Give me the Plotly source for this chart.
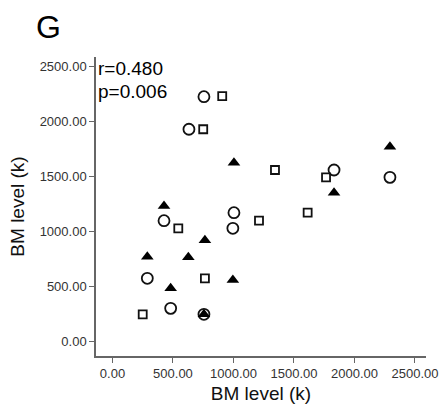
import plotly.graph_objects as go

# Data (BM level, k)
circle_x = [756, 632, 1831, 2293, 1004, 995, 426, 288, 481, 756]
circle_y = [2227, 1931, 1561, 1494, 1173, 1031, 1100, 576, 303, 249]
square_x = [907, 750, 1343, 1765, 1211, 1613, 764, 544, 250]
square_y = [2233, 1931, 1561, 1494, 1100, 1173, 576, 1031, 249]
tri_x = [1004, 2293, 1831, 764, 995, 426, 627, 288, 481, 756]
tri_y = [1627, 1773, 1355, 922, 561, 1234, 767, 773, 485, 249]
tick_vals = [0, 500, 1000, 1500, 2000, 2500]
tick_text = ["0.00", "500.00", "1000.00", "1500.00", "2000.00", "2500.00"]

FONT = "Liberation Sans, Arial, sans-serif"

fig = go.Figure()
fig.add_trace(go.Scatter(x=square_x, y=square_y, mode="markers",
                         marker=dict(symbol="square-open", size=8, color="#111",
                                     line=dict(width=1.8, color="#111"))))
fig.add_trace(go.Scatter(x=circle_x, y=circle_y, mode="markers",
                         marker=dict(symbol="circle-open", size=11, color="#111",
                                     line=dict(width=1.8, color="#111"))))
fig.add_trace(go.Scatter(x=tri_x, y=tri_y, mode="markers",
                         marker=dict(symbol="triangle-up", size=11, color="#000",
                                     line=dict(width=0))))

axis_common = dict(
    showline=True, linecolor="#666", linewidth=1.5, mirror=False,
    showgrid=False, zeroline=False, automargin=False,
    ticks="outside", ticklen=5, tickwidth=1, tickcolor="#666",
    tickvals=tick_vals, ticktext=tick_text,
    tickfont=dict(family=FONT, size=13, color="#333"),
)

fig.update_layout(
    width=443, height=412,
    margin=dict(l=96, r=17, t=57, b=56),
    paper_bgcolor="white", plot_bgcolor="white",
    showlegend=False,
    xaxis=dict(range=[-136, 2591], **axis_common,
               title=dict(text="BM level (k)", standoff=6,
                          font=dict(family=FONT, size=19, color="#111"))),
    yaxis=dict(range=[-130, 2588], **axis_common,
               title=dict(text="BM level (k)", standoff=10,
                          font=dict(family=FONT, size=19, color="#111"))),
    annotations=[
        dict(text="G", xref="paper", yref="paper", x=-0.179, y=1.10,
             xanchor="left", yanchor="middle", xshift=-3, yshift=0,
             showarrow=False,
             font=dict(family=FONT, size=32, color="#000")),
        dict(text="r=0.480", xref="paper", yref="paper", x=0.0, y=0.96,
             xanchor="left", yanchor="middle", xshift=0, yshift=0,
             showarrow=False,
             font=dict(family=FONT, size=19, color="#000")),
        dict(text="p=0.006", xref="paper", yref="paper", x=0.0, y=0.883,
             xanchor="left", yanchor="middle", xshift=0, yshift=0,
             showarrow=False,
             font=dict(family=FONT, size=19, color="#000")),
    ],
)

fig.write_html("out.html", config={"displayModeBar": False},
               post_script="document.body.style.margin='0';")
